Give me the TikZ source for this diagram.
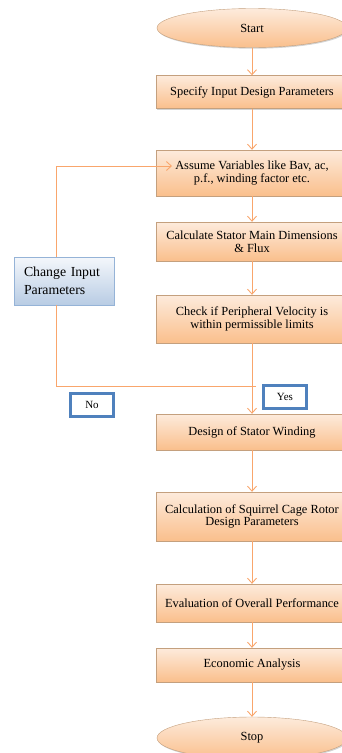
\documentclass[tikz,border=0pt]{standalone}
\usepackage{fontspec}
\setmainfont{Liberation Serif}
\usetikzlibrary{positioning,shapes.geometric,arrows.meta,shadows}
\definecolor{flowtop}{HTML}{FDEBDC}
\definecolor{flowbot}{HTML}{FABF8C}
\definecolor{flowedge}{HTML}{C4A07E}
\definecolor{linkcol}{HTML}{F9A66C}
\definecolor{bluetop}{HTML}{F4F7FB}
\definecolor{bluebot}{HTML}{B8CCE4}
\definecolor{blueedge}{HTML}{95B3D7}
\definecolor{tagedge}{HTML}{4F81BD}
\tikzset{
  flowbox/.style={draw=flowedge, top color=flowtop, bottom color=flowbot, minimum width=192pt, align=center, inner sep=2pt, font=\fontsize{12.4}{12.6}\selectfont, drop shadow={shadow xshift=1pt, shadow yshift=-1.2pt, opacity=0.35}},
  flowend/.style={flowbox, ellipse, minimum width=190pt},
  changebox/.style={draw=blueedge, top color=bluetop, bottom color=bluebot, align=left, minimum width=100pt, minimum height=48pt, inner sep=2pt, text width=80pt, font=\fontsize{13.8}{18}\selectfont, drop shadow={shadow xshift=1pt, shadow yshift=-1.2pt, opacity=0.35}},
  tag/.style={draw=tagedge, line width=2.3pt, fill=white, minimum width=43pt, minimum height=23pt, font=\fontsize{11}{12}\selectfont},
  link/.style={draw=linkcol, line width=0.9pt},
  arrow/.style={link, -{Straight Barb[length=5pt, width=9pt]}}
}
\begin{document}
\begin{tikzpicture}[x=1pt, y=1pt]
  \useasboundingbox (0,-753) rectangle (342,0);
  \node[flowend, minimum height=39pt] (start) at (252,-28) {Start};
  \node[flowbox, minimum height=33pt] (spec) at (252,-92) {Specify Input Design Parameters};
  \node[flowbox, minimum height=46pt] (assume) at (252,-173) {Assume Variables like Bav, ac,\\ p.f., winding factor etc.};
  \node[flowbox, minimum height=39pt] (calc) at (252,-241.5) {Calculate Stator Main Dimensions\\ \& Flux};
  \node[flowbox, minimum height=48pt] (check) at (252,-319) {Check if Peripheral Velocity is\\ within permissible limits};
  \node[flowbox, minimum height=36pt] (stwind) at (252,-432) {Design of Stator Winding};
  \node[flowbox, minimum height=49pt] (rotor) at (252,-516.5) {Calculation of Squirrel Cage Rotor\\ Design Parameters};
  \node[flowbox, minimum height=38pt] (perf) at (252,-603) {Evaluation of Overall Performance};
  \node[flowbox, minimum height=34pt] (econ) at (252,-665) {Economic Analysis};
  \node[flowend, minimum height=42pt] (stop) at (252,-738) {Stop};

  \node[changebox] (change) at (64,-281) {Change Input\\ Parameters};
  \node[tag] (no) at (92,-405) {No};
  \node[tag] (yes) at (285,-397) {Yes};

  \coordinate (turn) at (256,-386);
  \coordinate (entry) at (172,-166);

  \draw[arrow] (start) -- (spec);
  \draw[arrow] (spec) -- (assume);
  \draw[arrow] (assume) -- (calc);
  \draw[arrow] (calc) -- (check);
  \draw[arrow] (check) -- (stwind);
  \draw[arrow] (stwind) -- (rotor);
  \draw[arrow] (rotor) -- (perf);
  \draw[arrow] (perf) -- (econ);
  \draw[arrow] (econ) -- (stop);

  % back to the assumptions
  \draw[link] (turn) -- (turn -| 56,0) -- (change.south -| 56,0);
  \draw[arrow] (change.north -| 56,0) |- (entry);
\end{tikzpicture}
\end{document}
